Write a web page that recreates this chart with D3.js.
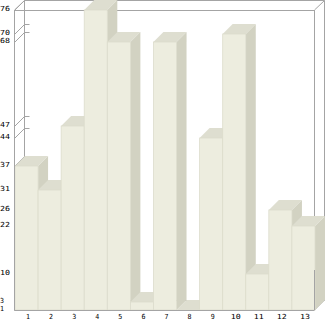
<!DOCTYPE html>
<html><head><meta charset="utf-8">
<script src="https://cdn.jsdelivr.net/npm/d3@7/dist/d3.min.js"></script>
<style>body{margin:0;background:#fff}svg{display:block}</style>
</head><body>
<script>
const categories = ["1","2","3","4","5","6","7","8","9","10","11","12","13"];
const values = [37,31,47,76,68,3,68,1,44,70,10,26,22];
const tickValues = [1,3,10,22,26,31,37,44,47,68,70,76];

(function () {
const W = 326, H = 321;
const L = 14.5, R = 314.5, T = 10, B = 310, D = 10;
const svg = d3.select("body").append("svg").attr("width", W).attr("height", H);

const x = d3.scaleBand().domain(categories).range([L + 0.5, R + 0.5]).padding(0);
const y = d3.scaleLinear().domain([1, 76]).range([B, T]);

const lineC = "#a4a4a4";
const g = svg.append("g");
function line(x1, y1, x2, y2, c) {
  g.append("line").attr("x1", x1).attr("y1", y1).attr("x2", x2).attr("y2", y2)
    .attr("stroke", c || lineC).attr("stroke-width", 1);
}
// back wall
line(L + D, 0.5, R + D, 0.5);
line(L + D, 0.5, L + D, B - D);
line(R + D, 0.5, R + D, B - D);
line(L + D, B - D + 0.5, R + D, B - D + 0.5);
// diagonals
line(L, T, L + D, 0.5);
line(R, T, R + D, 0.5);
line(R, B, R + D, B - D);
// front frame top & right
line(L, T + 0.5, R, T + 0.5);
line(R, T, R, B);
// ticks
tickValues.forEach(v => {
  const yy = Math.round(y(v)) + 0.5;
  line(L, yy, L + D, yy - D);
  line(L + D, yy - D, L + D + 5, yy - D);
});

// bars
const cFront = "#ededdf", cTop = "#deded0", cSide = "#d2d2c2", cEdge = "#dcdccc";
const bars = svg.append("g");
categories.forEach((c, i) => {
  const x0 = x(c), x1 = x(c) + x.bandwidth();
  const yv = y(values[i]);
  bars.append("polygon")
    .attr("points", [[x1, yv], [x1 + D, yv - D], [x1 + D, B - D], [x1, B]].join(" "))
    .attr("fill", cSide);
  bars.append("polygon")
    .attr("points", [[x0, yv], [x0 + D, yv - D], [x1 + D, yv - D], [x1, yv]].join(" "))
    .attr("fill", cTop);
  bars.append("rect")
    .attr("x", x0).attr("y", yv).attr("width", x1 - x0).attr("height", B - yv)
    .attr("fill", cFront).attr("stroke", cEdge).attr("stroke-width", 0.8);
});

// axes
const ax = svg.append("g");
ax.append("line").attr("x1", L).attr("y1", T).attr("x2", L).attr("y2", B + 0.5).attr("stroke", lineC);
ax.append("line").attr("x1", L).attr("y1", B + 0.5).attr("x2", R).attr("y2", B + 0.5).attr("stroke", lineC);
ax.append("line").attr("x1", R).attr("y1", B - 40).attr("x2", R).attr("y2", B).attr("stroke", lineC);

const font = "'DejaVu Sans Mono', monospace";
svg.append("g").selectAll("text").data(tickValues).join("text")
  .attr("x", 0).attr("y", v => y(v) + 0.5)
  .attr("font-family", font).attr("font-size", 7)
  .attr("textLength", v => String(v).length * 6 - 2).attr("lengthAdjust", "spacingAndGlyphs")
  .attr("fill", "#000").text(v => v);

svg.append("g").selectAll("text").data(categories).join("text")
  .attr("x", c => x(c) + x.bandwidth() / 2 + 1.5).attr("y", 319)
  .attr("text-anchor", "middle")
  .attr("font-family", font).attr("font-size", 7)
  .attr("textLength", c => c.length * 6 - 2).attr("lengthAdjust", "spacingAndGlyphs")
  .attr("fill", "#000").text(c => c);
})();
</script>
</body></html>
